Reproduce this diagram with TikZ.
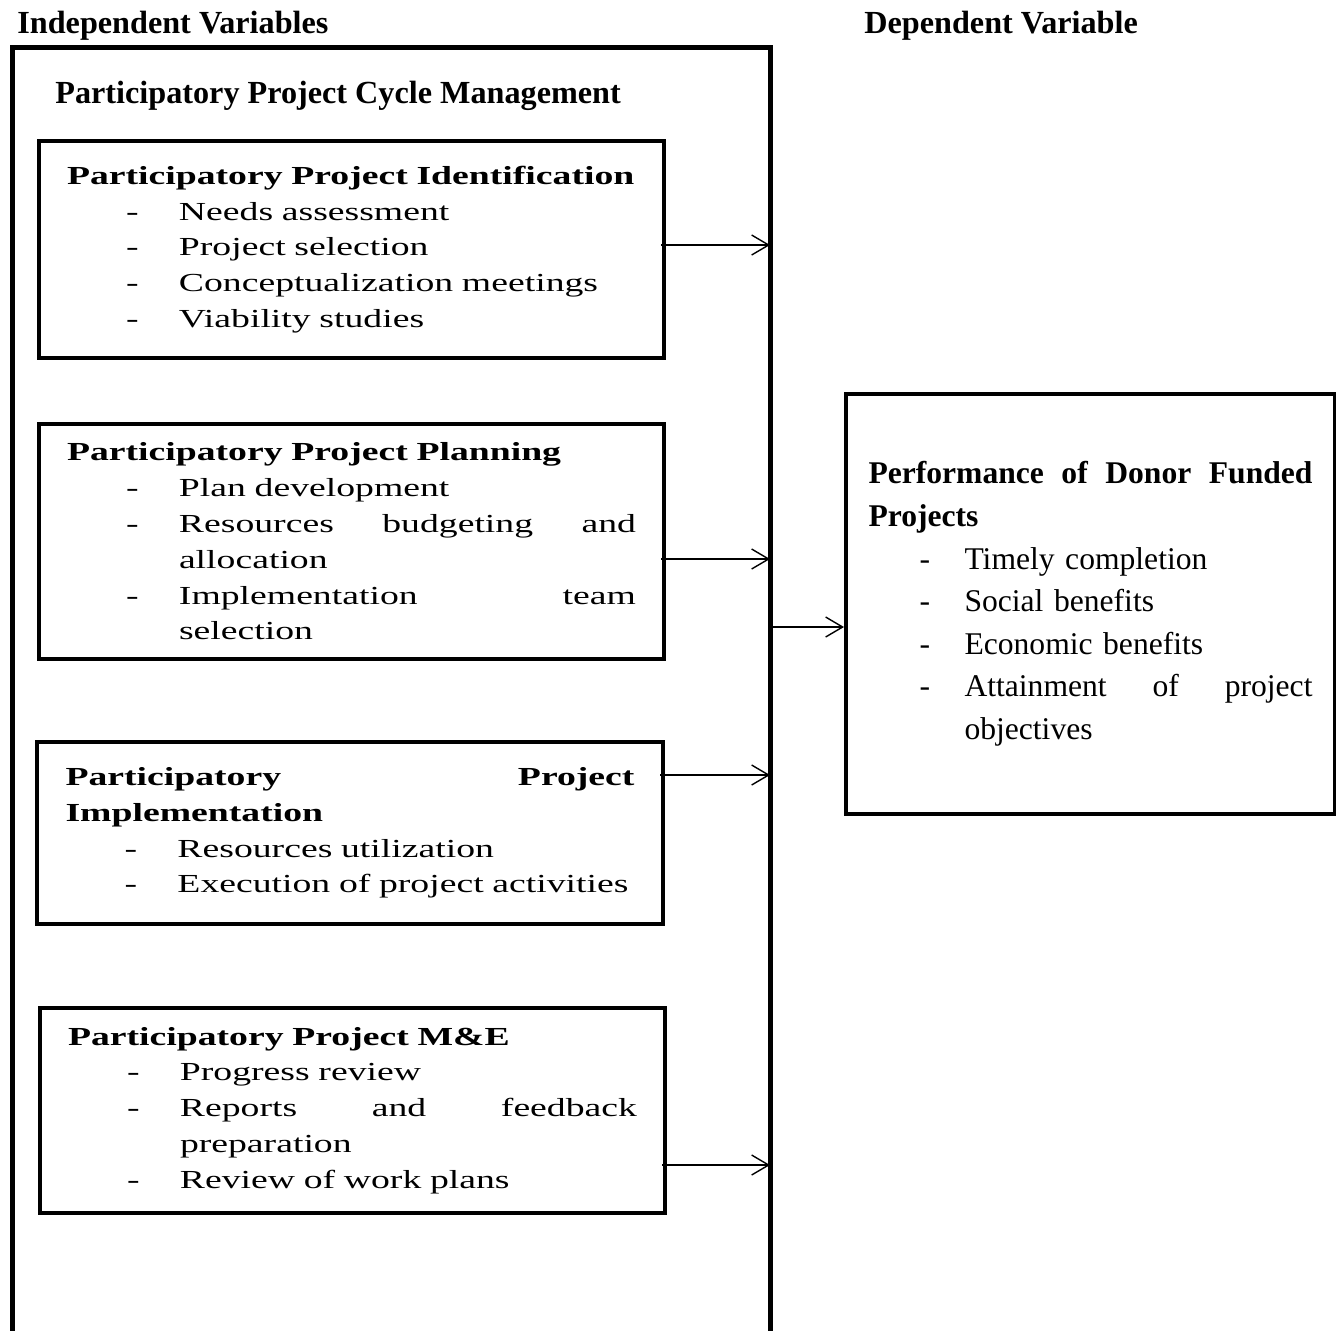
\documentclass[tikz,border=0pt]{standalone}
\usepackage{fontspec}
\setmainfont{Liberation Serif}
\newfontfamily\wideserif[FakeStretch=1.45]{Liberation Serif}
\usetikzlibrary{arrows.meta}
\newcommand{\dashitem}[1]{\hspace*{29.5pt}\makebox[26.5pt][l]{-}#1}
\newcommand{\contline}[1]{\hspace*{56pt}#1}
\newcommand{\perfitem}[1]{\hspace*{25.5pt}\makebox[22.5pt][l]{-}#1}
\begin{document}
\begin{tikzpicture}[x=0.5pt,y=-0.5pt,
  phase/.style={draw,line width=2pt,anchor=north west,minimum width=312.5pt,text width=284.5pt,align=left,inner sep=0pt,font={\wideserif\fontsize{13}{17.9}\selectfont}},
  outcome/.style={draw,line width=2pt,anchor=north west,minimum width=244.5pt,text width=222pt,align=left,inner sep=0pt,font={\fontsize{15.8}{21.3}\selectfont}},
  head/.style={anchor=west,inner sep=0pt,font={\bfseries\fontsize{16.1}{19}\selectfont}},
  link/.style={-{Straight Barb[length=8.5pt,width=10pt]},line width=0.7pt}]
 \useasboundingbox (0,0) rectangle (1336,1330);
 \node[head] (indep) at (17,26) {Independent Variables};
 \node[head] (dep) at (864,26) {Dependent Variable};
 \node[head] (ppcm) at (55,96) {Participatory Project Cycle Management};
 \draw[line width=2.5pt] (12,1335) -- (12,47) -- (770,47) -- (770,1335);
 \node[phase,minimum height=108.5pt] (ident) at (37,139) {\textbf{Participatory Project Identification}\\
  \dashitem{Needs assessment}\\
  \dashitem{Project selection}\\
  \dashitem{Conceptualization meetings}\\
  \dashitem{Viability studies}};
 \node[phase,minimum height=117.5pt] (plan) at (37,422) {\textbf{Participatory Project Planning}\\
  \dashitem{Plan development}\\
  \dashitem{Resources\hfill budgeting\hfill and}\\
  \contline{allocation}\\
  \dashitem{Implementation\hfill team}\\
  \contline{selection}};
 \node[phase,minimum height=91pt,minimum width=313pt] (impl) at (35,740) {\textbf{Participatory\hfill Project}\\
  \textbf{Implementation}\\
  \dashitem{Resources utilization}\\
  \dashitem{Execution of project activities}};
 \node[phase,minimum height=102.5pt] (mande) at (38,1006) {\textbf{Participatory Project M\&E}\\
  \dashitem{Progress review}\\
  \dashitem{Reports\hfill and\hfill feedback}\\
  \contline{preparation}\\
  \dashitem{Review of work plans}};
 \node[outcome,minimum height=210pt] (perf) at (844,392) {\textbf{Performance\hfill of\hfill Donor\hfill Funded}\\
  \textbf{Projects}\\
  \perfitem{Timely completion}\\
  \perfitem{Social benefits}\\
  \perfitem{Economic benefits}\\
  \perfitem{Attainment\hfill of\hfill project}\\
  \hspace*{48pt}objectives};
 \coordinate (e1) at (770,245);
 \coordinate (e2) at (770,559);
 \coordinate (e3) at (770,775);
 \coordinate (e4) at (770,1165);
 \coordinate (fr) at (770,627);
 \draw[link] (ident.east |- e1) ++(-5,0) -- (e1);
 \draw[link] (plan.east |- e2) ++(-5,0) -- (e2);
 \draw[link] (impl.east |- e3) ++(-5,0) -- (e3);
 \draw[link] (mande.east |- e4) ++(-5,0) -- (e4);
 \draw[link] (fr) -- (perf.west |- fr);
\end{tikzpicture}
\end{document}
